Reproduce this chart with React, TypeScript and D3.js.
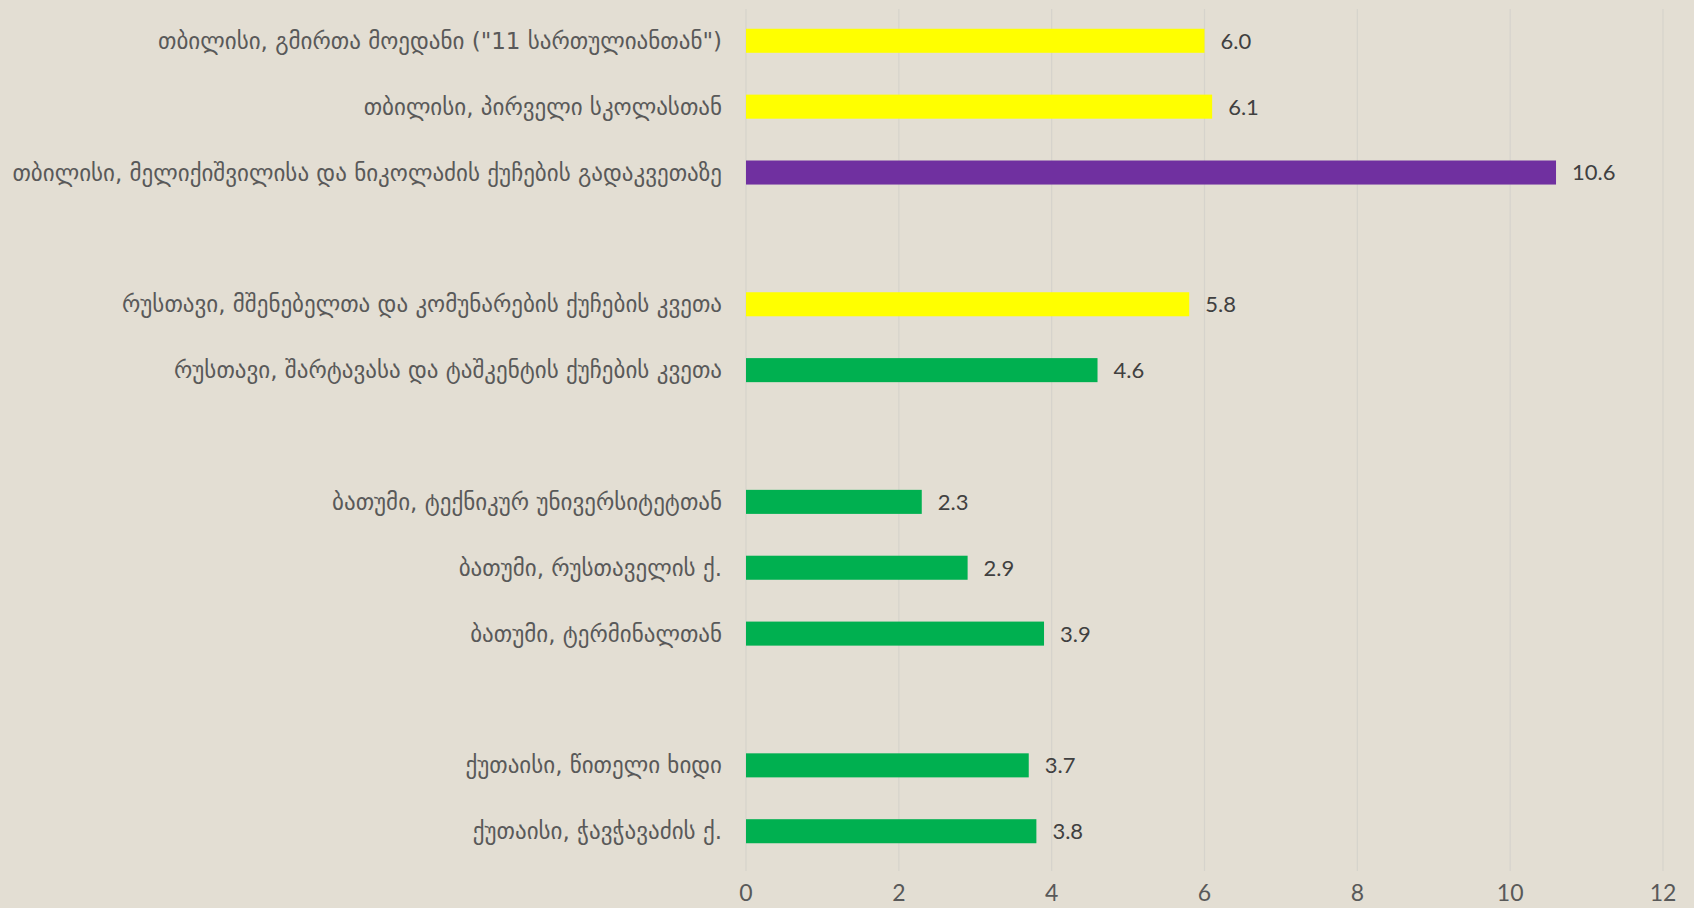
import React, { useEffect, useRef } from 'react';
import * as d3 from 'd3';

// rows top → bottom; empty strings are spacer rows between city groups
const categories = [
  'თბილისი, გმირთა მოედანი ("11 სართულიანთან")',
  'თბილისი, პირველი სკოლასთან',
  'თბილისი, მელიქიშვილისა და ნიკოლაძის ქუჩების გადაკვეთაზე',
  '',
  'რუსთავი, მშენებელთა და კომუნარების ქუჩების კვეთა',
  'რუსთავი, შარტავასა და ტაშკენტის ქუჩების კვეთა',
  '',
  'ბათუმი, ტექნიკურ უნივერსიტეტთან',
  'ბათუმი, რუსთაველის ქ.',
  'ბათუმი, ტერმინალთან',
  '',
  'ქუთაისი, წითელი ხიდი',
  'ქუთაისი, ჭავჭავაძის ქ.',
];
const values = [6.0, 6.1, 10.6, null, 5.8, 4.6, null, 2.3, 2.9, 3.9, null, 3.7, 3.8];
const barColors = ['#FFFF00', '#FFFF00', '#7030A0', '', '#FFFF00', '#00B050', '', '#00B050', '#00B050', '#00B050', '', '#00B050', '#00B050'];
const xTicks = [0, 2, 4, 6, 8, 10, 12];

const W = 1694;
const H = 908;
const margin = { top: 9, right: 31, bottom: 45, left: 746 };

export default function App() {
  const svgRef = useRef<SVGSVGElement>(null);

  useEffect(() => {
    const svg = d3.select(svgRef.current);
    svg.selectAll('*').remove();

    const innerW = W - margin.left - margin.right;
    const innerH = H - margin.top - margin.bottom;

    const x = d3.scaleLinear().domain([0, 12]).range([0, innerW]);
    const y = d3.scaleBand<number>()
      .domain(categories.map((_, i) => i))
      .range([0, innerH])
      .paddingInner(0.635)
      .paddingOuter(0.3);

    svg.append('rect').attr('width', W).attr('height', H).attr('fill', '#E3DED3');

    const g = svg.append('g').attr('transform', `translate(${margin.left},${margin.top})`);

    // Grid lines
    g.append('g')
      .selectAll('line')
      .data(xTicks)
      .join('line')
      .attr('x1', d => x(d))
      .attr('x2', d => x(d))
      .attr('y1', 0)
      .attr('y2', innerH + 8)
      .attr('stroke', '#D6D3CC')
      .attr('stroke-width', 1.2);

    // Tick labels
    g.append('g')
      .selectAll('text')
      .data(xTicks)
      .join('text')
      .attr('x', d => x(d))
      .attr('y', innerH + 38)
      .attr('text-anchor', 'middle')
      .attr('fill', '#595959')
      .style('font-family', 'Lato, "DejaVu Sans", sans-serif')
      .style('font-size', '23px')
      .text(d => d);

    const rows = categories.map((c, i) => ({ c, i, v: values[i], color: barColors[i] }));
    const filled = rows.filter(d => d.v != null);

    // Bars
    g.append('g')
      .selectAll('rect')
      .data(filled)
      .join('rect')
      .attr('x', 0)
      .attr('y', d => y(d.i)!)
      .attr('width', d => x(d.v as number))
      .attr('height', y.bandwidth())
      .attr('fill', d => d.color);

    // Value labels
    g.append('g')
      .selectAll('text')
      .data(filled)
      .join('text')
      .attr('x', d => x(d.v as number) + 16)
      .attr('y', d => y(d.i)! + y.bandwidth() / 2)
      .attr('dy', '0.36em')
      .attr('fill', '#404040')
      .style('font-family', 'Lato, "DejaVu Sans", sans-serif')
      .style('font-size', '22px')
      .text(d => (d.v as number).toFixed(1));

    // Category labels
    g.append('g')
      .selectAll('text')
      .data(filled)
      .join('text')
      .attr('x', -24)
      .attr('y', d => y(d.i)! + y.bandwidth() / 2)
      .attr('dy', '0.35em')
      .attr('text-anchor', 'end')
      .attr('fill', '#595959')
      .style('font-family', '"DejaVu Sans", sans-serif')
      .style('font-size', '23px')
      .text(d => d.c);
  }, []);

  return (
    <svg
      ref={svgRef}
      width={W}
      height={H}
      style={{ display: 'block', position: 'absolute', left: 0, top: 0 }}
    />
  );
}
